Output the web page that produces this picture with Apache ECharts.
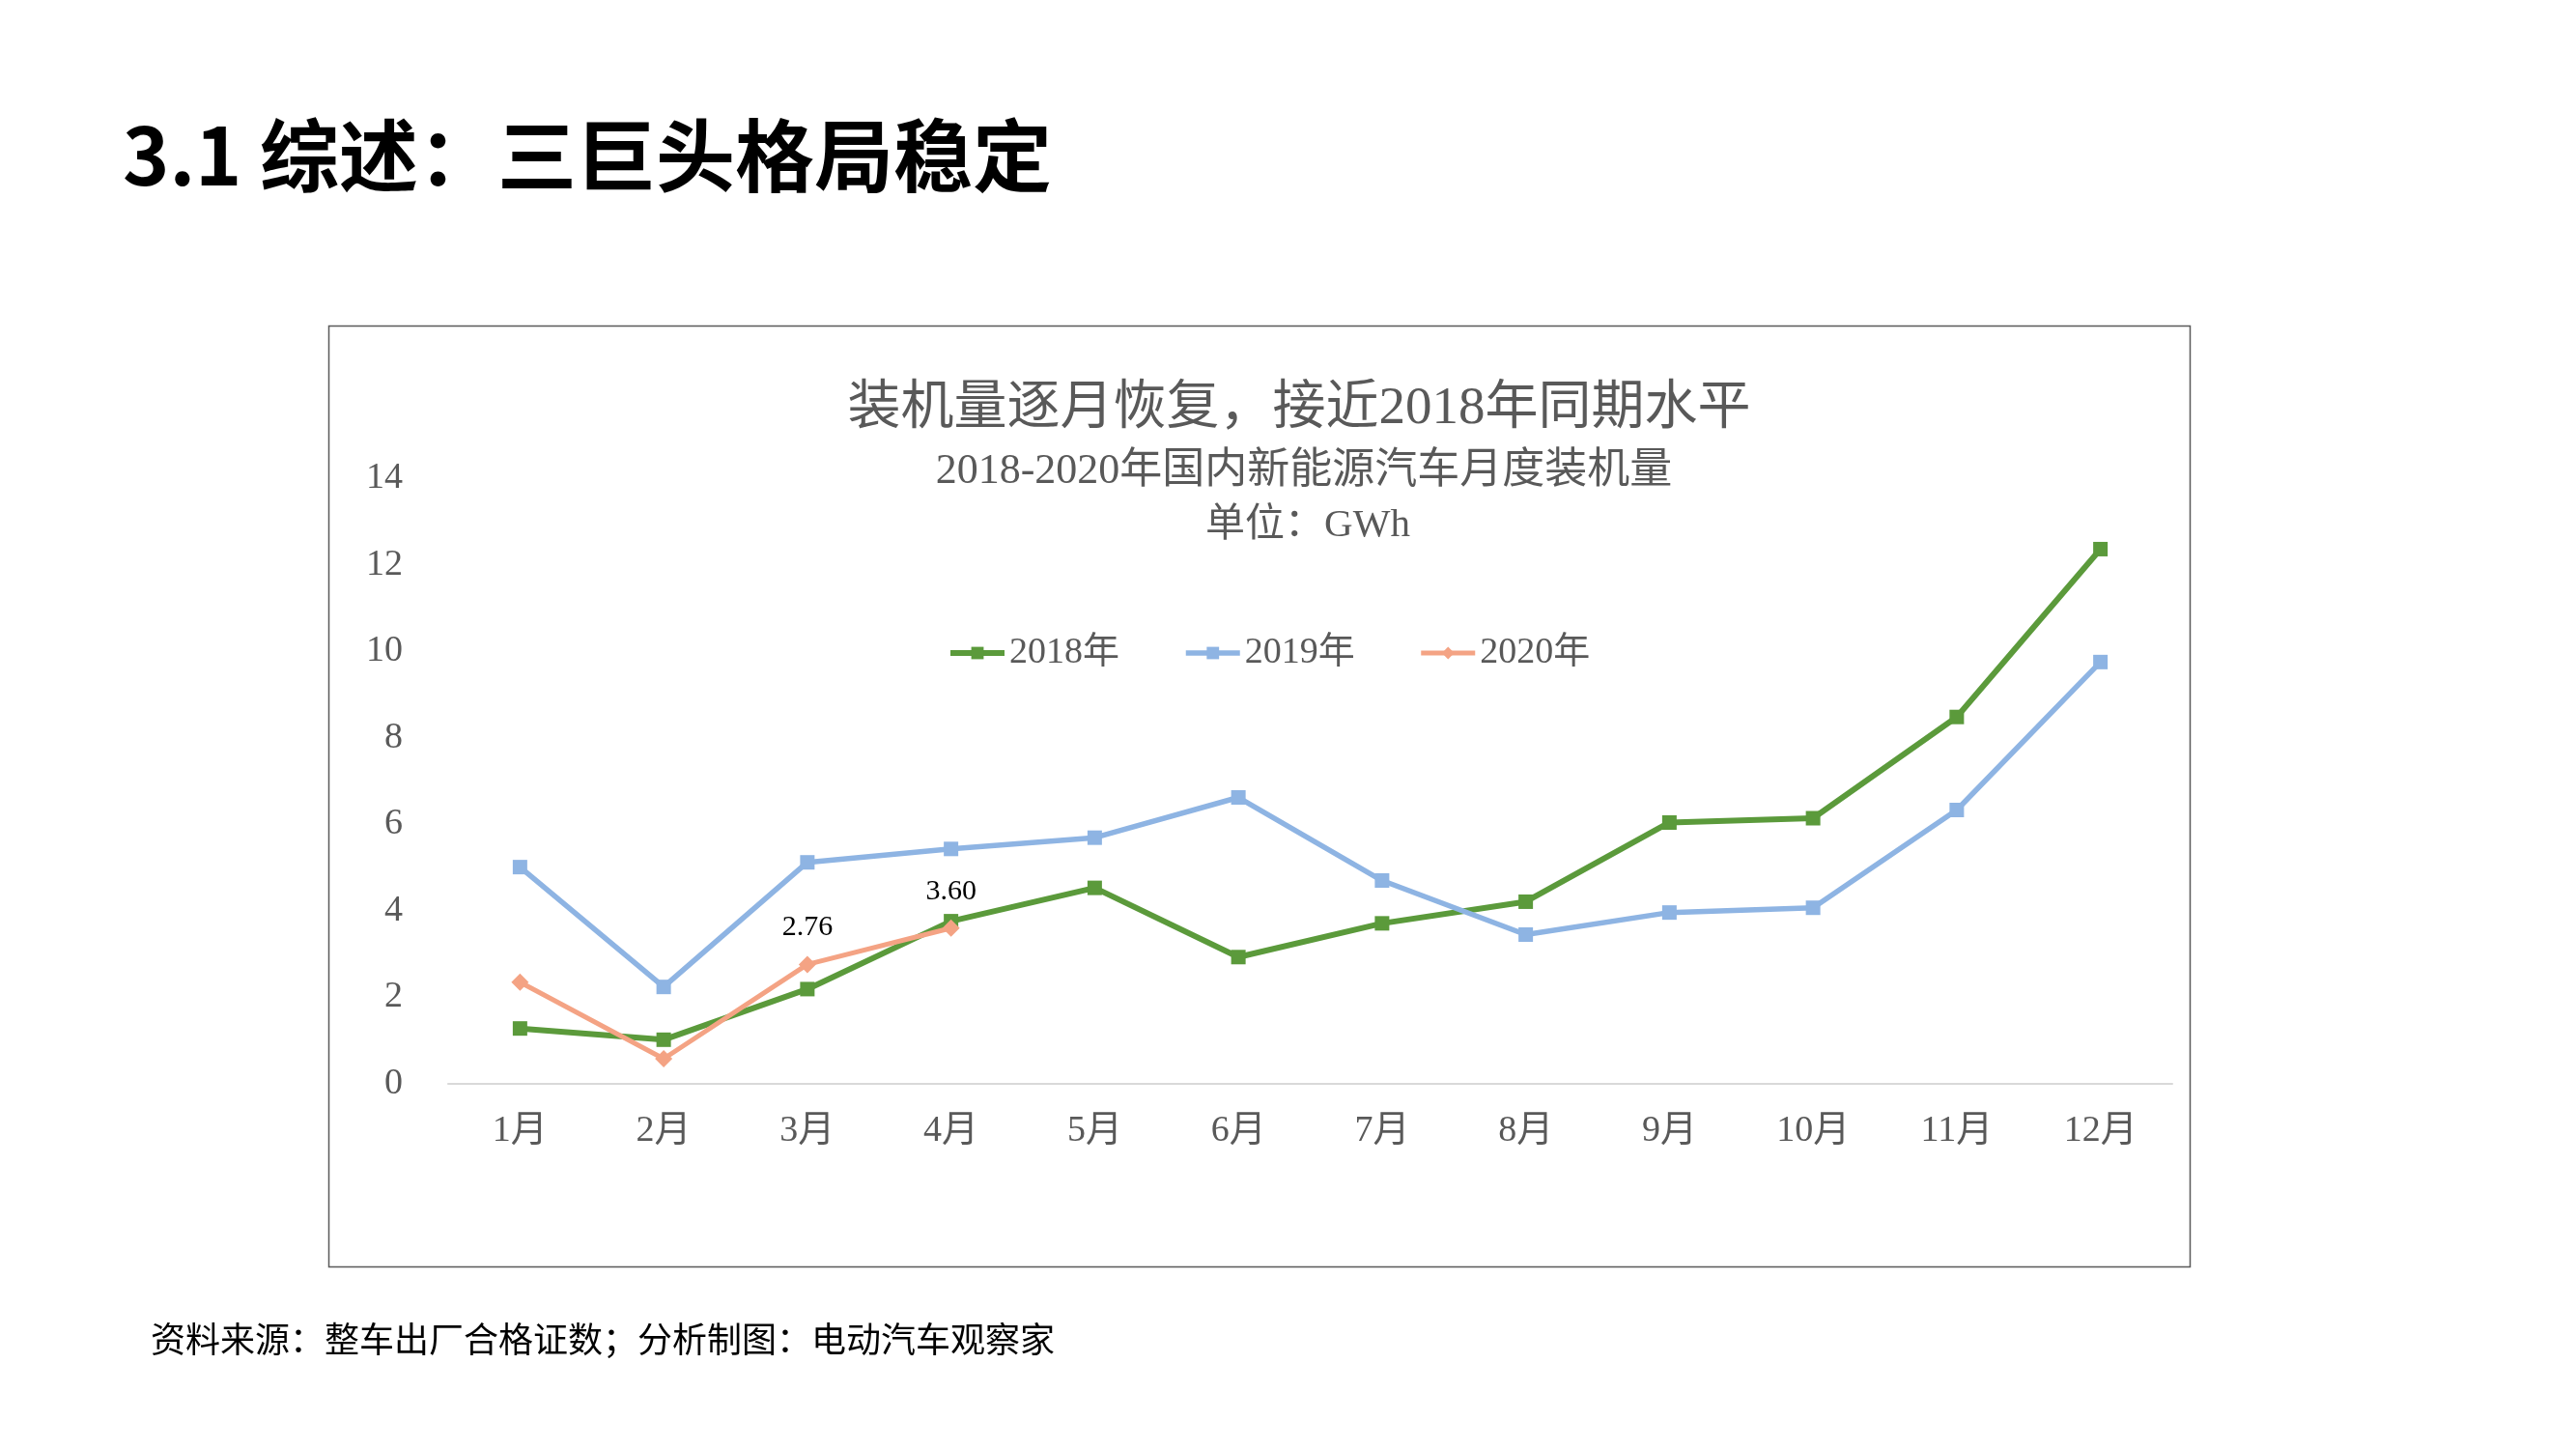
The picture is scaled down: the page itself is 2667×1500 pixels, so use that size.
<!DOCTYPE html>
<html>
<head>
<meta charset="utf-8">
<script src="https://cdn.jsdelivr.net/npm/echarts@6/dist/echarts.min.js"></script>
<style>
html,body{margin:0;padding:0;background:#fff;}
#chart{width:2667px;height:1500px;}
</style>
</head>
<body>
<div id="chart"></div>
<script>
var months = ['1月','2月','3月','4月','5月','6月','7月','8月','9月','10月','11月','12月'];
var seriesNames = ['2018年','2019年','2020年'];
var v2018 = [1.28, 1.02, 2.19, 3.76, 4.53, 2.93, 3.71, 4.21, 6.04, 6.14, 8.48, 12.36];
var v2019 = [5.01, 2.24, 5.12, 5.43, 5.69, 6.62, 4.70, 3.45, 3.96, 4.07, 6.33, 9.75];
var v2020 = [2.35, 0.58, 2.76, 3.60];
var labeled2020 = [2, 3];
var yTicks = [0, 2, 4, 6, 8, 10, 12, 14];

var pageTitle = '3.1 综述：三巨头格局稳定';
var chartTitle = '装机量逐月恢复，接近2018年同期水平';
var chartSub1 = '2018-2020年国内新能源汽车月度装机量';
var chartSub2 = '单位：GWh';
var footer = '资料来源：整车出厂合格证数；分析制图：电动汽车观察家';

var SERIF = "'Liberation Serif', 'Noto Sans CJK SC', serif";
var CJK = "'Noto Sans CJK SC', sans-serif";
var colors = ['#5B9A3B', '#8EB4E3', '#F4A384'];
var widths = [6, 5.5, 5];

var chart = echarts.init(document.getElementById('chart'), null, {renderer: 'canvas'});

var data2020 = v2020.map(function (v, i) {
  return labeled2020.indexOf(i) >= 0 ? {value: v, label: {show: true}} : v;
});

chart.setOption({
  backgroundColor: '#ffffff',
  animation: false,
  grid: {left: 464, right: 418, top: 495, bottom: 378, containLabel: false},
  legend: {
    data: seriesNames.map(function (n, i) {
      return {name: n, lineStyle: {color: colors[i], width: widths[i]}, itemStyle: {color: colors[i]}};
    }),
    left: 976, top: 652,
    itemWidth: 56, itemHeight: 16, itemGap: 66,
    textStyle: {fontFamily: SERIF, fontSize: 38, color: '#595959'}
  },
  xAxis: {
    type: 'category', data: months, boundaryGap: true,
    axisLine: {show: true, lineStyle: {color: '#D9D9D9', width: 2}},
    axisTick: {show: false},
    axisLabel: {fontFamily: SERIF, fontSize: 38, color: '#595959', margin: 30},
    splitLine: {show: false}
  },
  yAxis: {
    type: 'value', min: yTicks[0], max: yTicks[yTicks.length - 1], interval: 2,
    axisLine: {show: false}, axisTick: {show: false},
    axisLabel: {fontFamily: SERIF, fontSize: 38, color: '#595959', margin: 47},
    splitLine: {show: false}
  },
  series: [
    {
      name: seriesNames[0], type: 'line', data: v2018,
      symbol: 'rect', symbolSize: 15,
      lineStyle: {color: colors[0], width: widths[0]}, itemStyle: {color: colors[0]}
    },
    {
      name: seriesNames[1], type: 'line', data: v2019,
      symbol: 'rect', symbolSize: 15,
      lineStyle: {color: colors[1], width: widths[1]}, itemStyle: {color: colors[1]}
    },
    {
      name: seriesNames[2], type: 'line', data: data2020,
      symbol: 'diamond', symbolSize: 18,
      lineStyle: {color: colors[2], width: widths[2]}, itemStyle: {color: colors[2]},
      label: {show: false, position: 'top', distance: 14, fontFamily: SERIF, fontSize: 30, color: '#000000',
        formatter: function (p) { return Number(p.value).toFixed(2); }}
    }
  ],
  graphic: [
    {type: 'rect', shape: {x: 340.5, y: 337.5, width: 1927, height: 974}, style: {fill: null, stroke: '#595959', lineWidth: 1.5}, z: -1},
    {type: 'text', left: 127, top: 120, style: {text: pageTitle, font: "bold 82px 'Noto Sans CJK SC', sans-serif", fill: '#000000'}},
    {type: 'text', x: 1345, y: 424, style: {text: chartTitle, fontFamily: SERIF, fontSize: 55, fill: '#595959', align: 'center', verticalAlign: 'middle'}},
    {type: 'text', x: 1350, y: 488, style: {text: chartSub1, fontFamily: SERIF, fontSize: 44, fill: '#595959', align: 'center', verticalAlign: 'middle'}},
    {type: 'text', x: 1354, y: 544, style: {text: chartSub2, fontFamily: SERIF, fontSize: 41, fill: '#595959', align: 'center', verticalAlign: 'middle'}},
    {type: 'text', x: 156, y: 1386, style: {text: footer, fontFamily: CJK, fontSize: 36, fill: '#000000', align: 'left', verticalAlign: 'middle'}}
  ]
});
</script>
</body>
</html>
